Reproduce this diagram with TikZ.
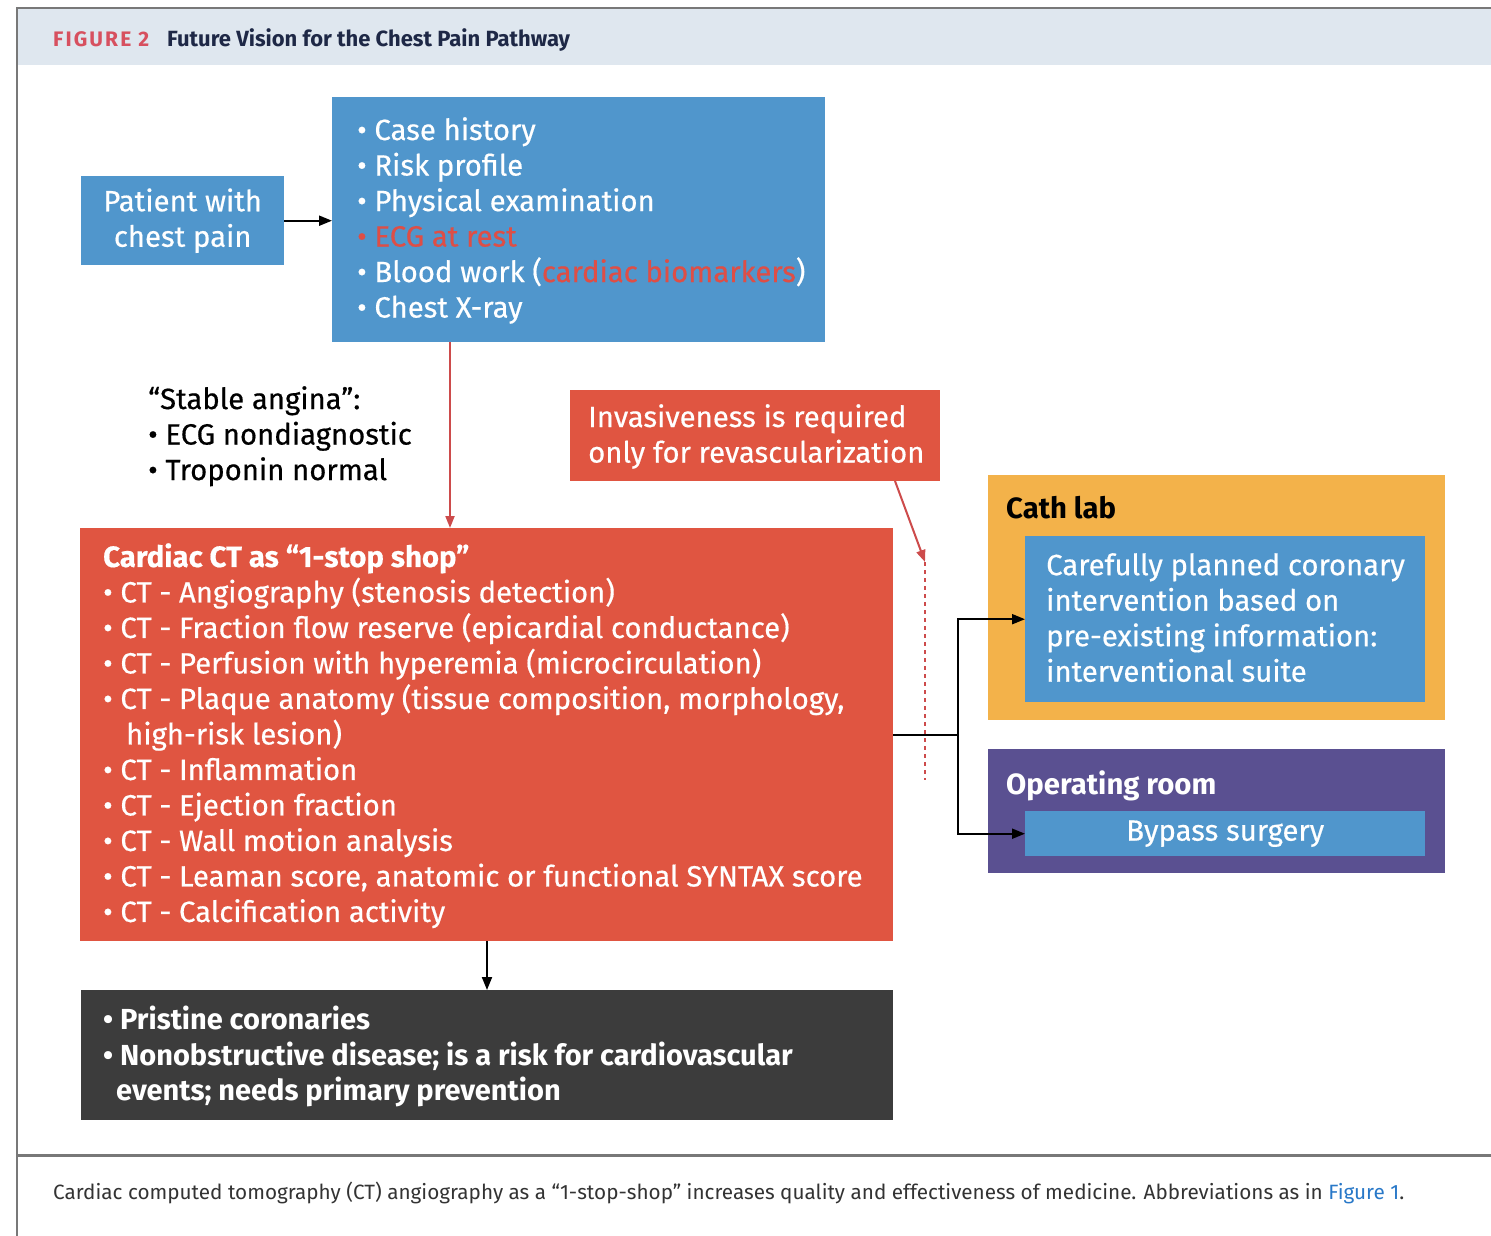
\documentclass[tikz,border=0pt]{standalone}
\usepackage{fontspec}
\setmainfont{Fira Sans}
\newfontfamily\medfont{Fira Sans}[FakeBold=0.5]
\usetikzlibrary{arrows.meta}
\definecolor{cblue}{RGB}{80,150,204}
\definecolor{cred}{RGB}{224,85,65}
\definecolor{corange}{RGB}{243,178,74}
\definecolor{cpurple}{RGB}{90,80,145}
\definecolor{cdark}{RGB}{60,60,60}
\definecolor{chdr}{RGB}{223,231,239}
\definecolor{credtxt}{RGB}{222,78,70}
\definecolor{carrred}{RGB}{205,75,75}
\definecolor{cfig}{RGB}{215,80,95}
\definecolor{cnavy}{RGB}{30,40,70}
\definecolor{clink}{RGB}{40,120,200}
\definecolor{cframe}{RGB}{120,120,120}
\begin{document}
\begin{tikzpicture}[x=1pt,y=-1pt,
  box/.style={draw=none, inner sep=0, anchor=north west},
  txt/.style={inner sep=0, anchor=north west, align=left, text=white,
    font=\fontsize{29.3}{35.5}\selectfont\medfont},
  arr/.style={line width=2pt, -{Triangle[length=13pt,width=10pt]}},
  redarr/.style={line width=2pt, carrred, -{Triangle[length=12pt,width=9pt]}}
]
\useasboundingbox (0,0) rectangle (1491,1236);
\fill[white] (0,0) rectangle (1491,1236);
% frame and header
\fill[chdr] (17,8) rectangle (1491,65);
\draw[cframe, line width=2.5pt] (1491,8) -- (17,8) -- (17,1236);
\draw[cframe, line width=3pt] (17,1155) -- (1491,1155);
\node[inner sep=0, anchor=west, font=\fontsize{21}{24}\selectfont\bfseries] (hdr) at (53,40)
  {{\color{cfig}\addfontfeature{LetterSpace=10}FIGURE 2}\hspace{18pt}{\fontsize{22}{24}\selectfont\color{cnavy}Future Vision for the Chest Pain Pathway}};
\node[inner sep=0, anchor=west, font=\fontsize{20.7}{24}\selectfont, text=black!80] (cap) at (53,1193)
  {Cardiac computed tomography (CT) angiography as a “1-stop-shop” increases quality and effectiveness of medicine. Abbreviations as in {\color{clink}Figure 1}.};

% patient
\node[box, fill=cblue, minimum width=203, minimum height=89] (pat) at (81,176) {};
\node[inner sep=0, align=center, text=white, font=\fontsize{29.3}{35.5}\selectfont\medfont] (pattxt) at (pat.center) {Patient with\\chest pain};

% history box
\node[box, fill=cblue, minimum width=493, minimum height=245] (hist) at (332,97) {};
\node[txt] (histtxt) at (357,117) {• Case history\\• Risk profile\\• Physical examination\\{\color{credtxt}• ECG at rest}\\• Blood work ({\color{credtxt}cardiac biomarkers})\\• Chest X-ray};

% stable angina
\node[txt, text=black] (stable) at (148,386) {“Stable angina”:\\• ECG nondiagnostic\\• Troponin normal};

% invasiveness
\node[box, fill=cred, minimum width=370, minimum height=91] (inv) at (570,390) {};
\node[txt] (invtxt) at (588,404) {Invasiveness is required\\only for revascularization};

% CT box
\node[box, fill=cred, minimum width=813, minimum height=413] (ct) at (80,528) {};
\node[txt] (cttxt) at (103,543) {{\bfseries Cardiac CT as “1-stop shop”}\\
• CT - Angiography (stenosis detection)\\
• CT - Fraction flow reserve (epicardial conductance)\\
• CT - Perfusion with hyperemia (microcirculation)\\
• CT - Plaque anatomy (tissue composition, morphology,\\
\hspace*{23pt}high-risk lesion)\\
• CT - Inflammation\\
• CT - Ejection fraction\\
• CT - Wall motion analysis\\
• CT - Leaman score, anatomic or functional SYNTAX score\\
• CT - Calcification activity};

% dark box
\node[box, fill=cdark, minimum width=812, minimum height=130] (dark) at (81,990) {};
\node[txt, font=\fontsize{29}{35.5}\selectfont\bfseries] (darktxt) at (103,1006) {• Pristine coronaries\\• Nonobstructive disease; is a risk for cardiovascular\\\hspace*{13pt}events; needs primary prevention};

% cath lab
\node[box, fill=corange, minimum width=457, minimum height=245] (cath) at (988,475) {};
\node[txt, text=black, font=\fontsize{29.3}{35.5}\selectfont\bfseries] (cathtitle) at (1006,496) {Cath lab};
\node[box, fill=cblue, minimum width=400, minimum height=166] (cathin) at (1025,536) {};
\node[txt] (cathintxt) at (1046,553) {Carefully planned coronary\\intervention based on\\pre-existing information:\\interventional suite};

% operating room
\node[box, fill=cpurple, minimum width=457, minimum height=124] (op) at (988,749) {};
\node[txt, font=\fontsize{29.3}{35.5}\selectfont\bfseries] (optitle) at (1006,771) {Operating room};
\node[box, fill=cblue, minimum width=400, minimum height=45] (opin) at (1025,811) {};
\node[inner sep=0, text=white, font=\fontsize{29.3}{35.5}\selectfont\medfont] (opintxt) at (opin.center) {Bypass surgery};

% connectors
\draw[arr] (pat.east) -- (hist.west |- pat.east);
\coordinate (hfoot) at (450,342);
\draw[redarr] (hfoot) -- (hfoot |- ct.north);
\coordinate (cfoot) at (487,941);
\draw[arr] (cfoot) -- (cfoot |- dark.north);
\coordinate (j) at (958,735);
\draw[line width=2pt] (ct.east |- j) -- (j);
\draw[arr] (j) |- (cathin.west);
\draw[arr] (j) |- (opin.west);
\coordinate (ifoot) at (895,481);
\coordinate (dtop) at (925,562);
\coordinate (dbot) at (925,780);
\draw[redarr] (ifoot) -- (dtop);
\draw[carrred, line width=1.8pt, dash pattern=on 4pt off 4pt] (dtop) -- (dbot);
\end{tikzpicture}
\end{document}
